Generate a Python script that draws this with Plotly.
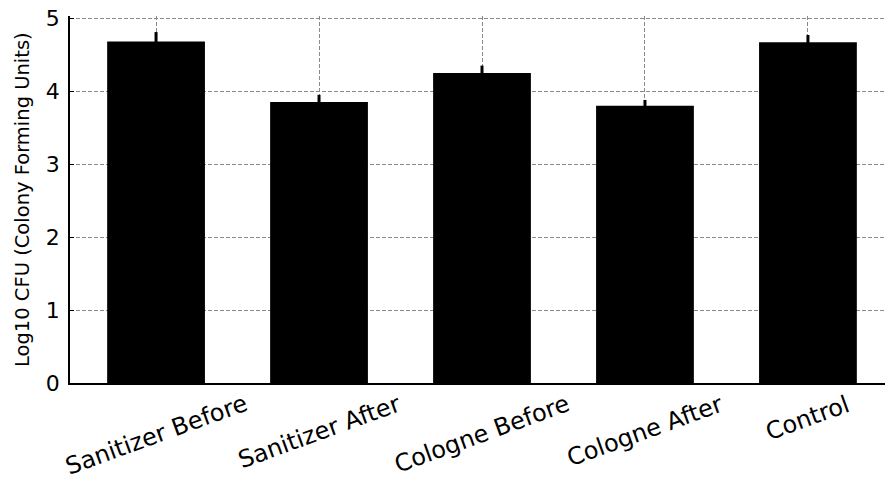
import plotly.graph_objects as go

categories = ["Sanitizer Before", "Sanitizer After", "Cologne Before", "Cologne After", "Control"]
values = [4.68, 3.85, 4.25, 3.80, 4.67]
errors = [0.13, 0.10, 0.10, 0.08, 0.10]
y_ticks = [0, 1, 2, 3, 4, 5]
y_title = "Log10 CFU (Colony Forming Units)"

FONT = "DejaVu Sans"
GRID = "#8a8a8a"

fig = go.Figure()
fig.add_trace(go.Bar(
    x=categories,
    y=values,
    width=0.6,
    marker=dict(color="black", line=dict(width=0)),
    error_y=dict(type="data", array=errors, visible=True, color="black",
                 thickness=3, width=0),
))

annotations = []
for c in categories:
    annotations.append(dict(
        x=c, xref="x", y=0, yref="paper", yanchor="top", xanchor="center",
        yshift=-4, text=c, showarrow=False, textangle=-20,
        font=dict(family=FONT, size=24, color="black"),
    ))
annotations.append(dict(
    x=0, xref="paper", y=0.5, yref="paper", xanchor="right", yanchor="middle",
    xshift=-34, text=y_title, showarrow=False, textangle=-90,
    font=dict(family=FONT, size=19.5, color="black"),
))

fig.update_layout(
    width=893, height=482,
    margin=dict(l=62, r=7, t=8, b=107, pad=0, autoexpand=False),
    plot_bgcolor="white", paper_bgcolor="white",
    showlegend=False,
    font=dict(family=FONT, color="black"),
    annotations=annotations,
    xaxis=dict(
        range=[-0.528, 4.528],
        showticklabels=False,
        showgrid=True, gridcolor=GRID, griddash="4px,2px", gridwidth=1,
        showline=True, linecolor="black", linewidth=1.5,
        ticks="", zeroline=False, automargin=False,
    ),
    yaxis=dict(
        range=[0, 5.03],
        tickvals=y_ticks,
        ticks="inside", ticklen=4, tickwidth=1, tickcolor="black",
        tickfont=dict(family=FONT, size=22, color="black"),
        ticklabelstandoff=4,
        ticklabeloverflow="allow",
        showgrid=True, gridcolor=GRID, griddash="4px,2px", gridwidth=1,
        showline=True, linecolor="black", linewidth=1.5,
        zeroline=False, automargin=False,
    ),
)

fig.write_html("out.html")
